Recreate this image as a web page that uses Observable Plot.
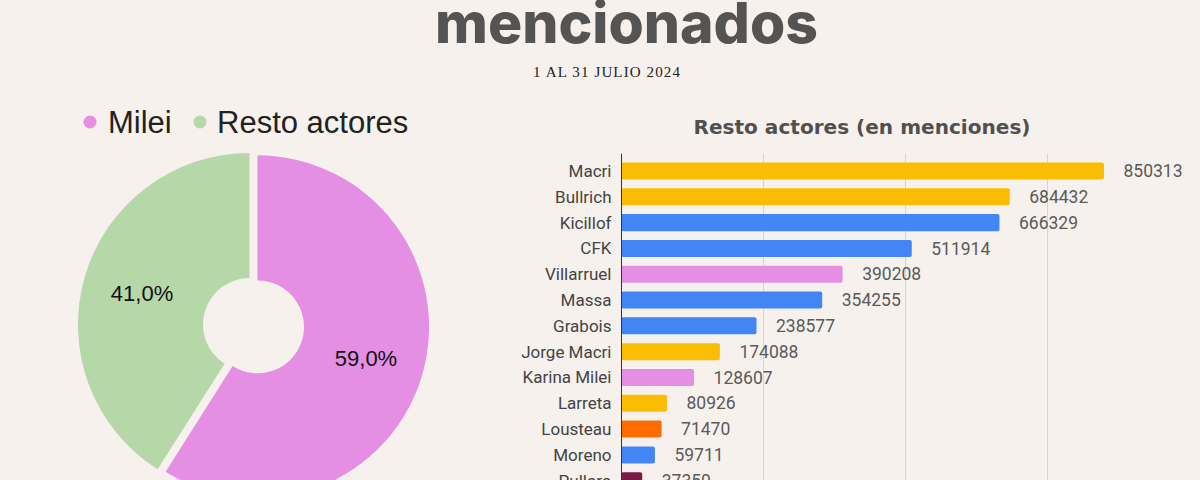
<!DOCTYPE html>
<html><head><meta charset="utf-8">
<script src="https://cdn.jsdelivr.net/npm/d3@7"></script>
<script src="https://cdn.jsdelivr.net/npm/@observablehq/plot@0.6"></script>
<style>
html,body{margin:0;padding:0;background:#F6F1EC;width:1200px;height:480px;overflow:hidden;}
#root{position:relative;width:1200px;height:480px;}
.abs{position:absolute;}
svg{overflow:visible;}
</style></head><body><div id="root">
<svg class="abs" id="texts" width="1200" height="480" style="left:0;top:0">
  <text x="626.5" y="43" text-anchor="middle" font-family="Inter" font-weight="800" font-size="56" fill="#545454" textLength="383" lengthAdjust="spacingAndGlyphs">mencionados</text>
  <text x="607" y="77" text-anchor="middle" font-family="Liberation Serif" font-size="15" letter-spacing="1" fill="#222" textLength="148">1 AL 31 JULIO 2024</text>
  <text x="862" y="134" text-anchor="middle" font-family="DejaVu Sans" font-weight="700" font-size="19" fill="#505050" textLength="337" lengthAdjust="spacingAndGlyphs">Resto actores (en menciones)</text>
</svg>
<div class="abs" id="legend" style="left:0;top:95px;width:500px;height:45px"></div>
<div class="abs" id="pie" style="left:0;top:140px"></div>
<div class="abs" id="bars" style="left:500px;top:140px"></div>
</div>
<script>
// ---- data: donut ----
const pieLabels = ["Milei", "Resto actores"];
const pieValues = [59.0, 41.0];
// ---- data: bars ----
const actors = ["Macri","Bullrich","Kicillof","CFK","Villarruel","Massa","Grabois","Jorge Macri","Karina Milei","Larreta","Lousteau","Moreno","Pullaro"];
const mentions = [850313,684432,666329,511914,390208,354255,238577,174088,128607,80926,71470,59711,37350];
const groups = ["PRO","PRO","UxP","UxP","LLA","UxP","UxP","PRO","LLA","PRO","UCR","UxP","Otro"];
const gridTicks = [250000, 500000, 750000];

// ---- styles ----
const pieColorRange = ["#E48FE3", "#B6D7A8"];
const groupDomain = ["PRO","UxP","LLA","UCR","Otro"];
const groupColors = ["#FBBC04","#4285F4","#E48FE3","#FF6D01","#7A1B47"];

// legend (above the donut)
{
  const lg = d3.select("#legend").append("svg").attr("width",500).attr("height",45).style("overflow","visible");
  const items = [{x:90, tx:108}, {x:200, tx:217}];
  pieLabels.forEach((l,i)=>{
    lg.append("circle").attr("cx", items[i].x).attr("cy", 27).attr("r", 6.5).attr("fill", pieColorRange[i]);
    lg.append("text").attr("x", items[i].tx).attr("y", 38).attr("font-family","Liberation Sans").attr("font-size",31).attr("fill","#222").text(l);
  });
}

// donut
const pieData = pieLabels.map((label,i)=>({label, value: pieValues[i]}));
const arcs = d3.pie().sort(null).value(d=>d.value)(pieData);
const labelData = arcs.map(a=>{
  const m = (a.startAngle + a.endAngle)/2;
  return {x: 0.68*Math.sin(m), y: 0.68*Math.cos(m), text: a.data.value.toFixed(1).replace(".", ",") + "%"};
});
function arcMark(index, scales) {
  const cx = scales.x(0), cy = scales.y(0);
  const r = Math.abs(scales.x(1) - scales.x(0));
  const g = d3.create("svg:g");
  const gen = d3.arc().innerRadius(r*0.271).outerRadius(r);
  for (const a of arcs) {
    const m = (a.startAngle + a.endAngle)/2;
    const off = r*0.0245;
    g.append("path").attr("d", gen(a))
      .attr("fill", scales.color(a.data.label))
      .attr("transform", `translate(${cx + off*Math.sin(m)},${cy - off*Math.cos(m)})`);
  }
  return g.node();
}
const pie = Plot.plot({
  width: 500, height: 340, margin: 0,
  x: {domain: [-1, 1], range: [82, 425], axis: null},
  y: {domain: [-1, 1], range: [357.2, 14.2], axis: null},
  color: {domain: pieLabels, range: pieColorRange},
  style: {background: "transparent", overflow: "visible"},
  marks: [
    Plot.dot(pieData, {x: 0, y: 0, fill: "label", r: 0}),
    arcMark,
    Plot.text(labelData, {x: "x", y: "y", text: "text", fontSize: 22, fill: "#111", fontFamily: "Liberation Sans"})
  ]
});
document.getElementById("pie").appendChild(pie);

// bars
const barData = actors.map((a,i)=>({actor: a, mentions: mentions[i], group: groups[i]}));
const bars = Plot.plot({
  width: 700, height: 360,
  marginLeft: 121, marginRight: 11, marginTop: 13.7, marginBottom: 2,
  x: {domain: [0, 1000000], axis: null},
  y: {domain: actors, padding: 0.34, round: false, axis: null},
  color: {domain: groupDomain, range: groupColors},
  style: {background: "transparent", color: "#444", fontFamily: "Roboto", overflow: "visible"},
  marks: [
    Plot.gridX(gridTicks, {stroke: "#d8d4cf", strokeOpacity: 1}),
    Plot.barX(barData, {x: "mentions", y: "actor", fill: "group", rx: 2}),
    Plot.ruleX([0], {stroke: "#333", strokeWidth: 1}),
    Plot.text(barData, {x: "mentions", y: "actor", text: d => String(d.mentions), dx: 19, textAnchor: "start", fill: "#5a5a5a", fontSize: 17.5, fontFamily: "Roboto"}),
    Plot.axisY({tickSize: 0, tickPadding: 10, fontSize: 17, fill: "#444", label: null})
  ]
});
document.getElementById("bars").appendChild(bars);
</script>
</body></html>
